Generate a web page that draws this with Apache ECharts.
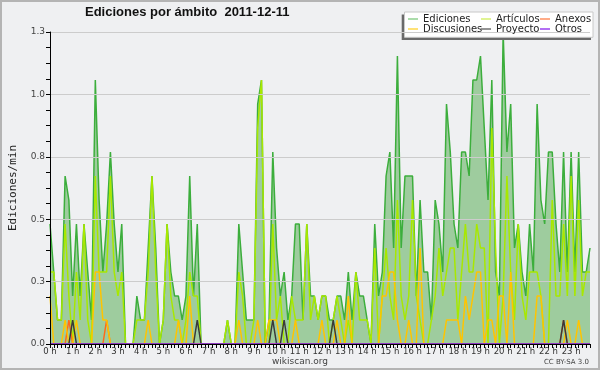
<!DOCTYPE html>
<html><head><meta charset="utf-8">
<script src="https://cdn.jsdelivr.net/npm/echarts@6/dist/echarts.min.js"></script>
<style>html,body{margin:0;padding:0;background:#eff0f2}#c{width:600px;height:370px}</style>
</head><body><div id="c"></div>
<script>
// Tick labels (one per hour) and 10-minute categories
const hourLabels = ["0 h","1 h","2 h","3 h","4 h","5 h","6 h","7 h","8 h","9 h","10 h","11 h","12 h","13 h","14 h","15 h","16 h","17 h","18 h","19 h","20 h","21 h","22 h","23 h"];
const yTickValues = [0, 0.26, 0.52, 0.78, 1.04, 1.3];
const categories = [];
for (let h = 0; h < 24; h++) for (let m = 0; m < 60; m += 10) categories.push(h + ":" + (m < 10 ? "0" : "") + m);

// Series values (edits per minute, 10-minute bins)
const ediciones = [
0.5,0.3,0.1,0.1,0.7,0.6,0.2,0.5,0.2,0.5,0.3,0.1,
1.1,0.6,0.3,0.5,0.8,0.5,0.3,0.5,0,0,0,0.2,
0.1,0.1,0.4,0.7,0.4,0,0.1,0.5,0.3,0.2,0.2,0.1,
0.2,0.7,0.2,0.5,0,0,0,0,0,0,0,0.1,
0,0,0.5,0.3,0.1,0.1,0.1,1.0,1.1,0,0.1,0.8,
0.4,0.2,0.3,0.1,0.2,0.5,0.5,0.1,0.5,0.2,0.2,0.1,
0.2,0.2,0.1,0.1,0.2,0.2,0.1,0.3,0.1,0.3,0.2,0.2,
0.1,0,0.5,0.2,0.3,0.7,0.8,0.4,1.2,0.4,0.7,0.7,
0.7,0.2,0.6,0.3,0.3,0.1,0.6,0.5,0.3,1.0,0.8,0.5,
0.4,0.8,0.8,0.7,1.1,1.1,1.2,0.9,0.6,1.1,0.3,0.2,
1.3,0.8,1.0,0.4,0.5,0.3,0.2,0.5,0.3,1.0,0.6,0.5,
0.8,0.8,0.5,0.3,0.8,0.3,0.8,0.3,0.8,0.3,0.3,0.4];
const articulos = [
0.3,0.3,0.1,0.1,0.5,0.2,0,0.3,0.1,0.5,0.1,0,
0.7,0.3,0.3,0.3,0.7,0.3,0.2,0.3,0,0,0,0.1,
0.1,0.1,0.3,0.7,0.3,0,0.1,0.5,0.2,0.1,0.1,0,
0.1,0.3,0.2,0.2,0,0,0,0,0,0,0,0.1,
0,0,0.3,0.2,0,0,0.1,0.9,1.1,0,0,0.5,
0.1,0.2,0,0,0.2,0.1,0.1,0.1,0.5,0.1,0.2,0.1,
0.2,0.2,0,0.1,0.2,0.1,0,0.1,0,0.3,0.1,0.1,
0.1,0,0.4,0,0.2,0.4,0.2,0.1,0.6,0.2,0.1,0.2,
0.6,0.2,0.1,0,0,0.1,0.2,0.4,0.2,0.3,0.4,0.4,
0.1,0.3,0.5,0.3,0.3,0.5,0.4,0.4,0,0.9,0.4,0,
0.2,0.7,0.3,0.1,0.5,0.2,0.1,0.3,0.3,0.3,0.2,0,
0,0.6,0.2,0.2,0.5,0.2,0.7,0.2,0.6,0.2,0.3,0.3];
const anexos = [
0,0,0,0,0,0.1,0,0,0,0,0,0,
0,0,0,0.1,0,0,0,0,0,0,0,0,
0,0,0,0,0,0,0,0,0,0,0,0,
0,0,0,0,0,0,0,0,0,0,0,0,
0,0,0,0,0,0,0,0,0,0,0,0,
0,0,0,0,0,0,0,0,0,0,0,0,
0,0,0,0,0,0,0,0,0,0,0,0,
0,0,0,0,0,0,0,0,0,0,0,0,
0,0,0,0,0,0,0,0,0,0,0,0,
0,0,0,0,0,0,0,0,0,0,0,0,
0,0,0,0,0,0,0,0,0,0,0,0,
0,0,0,0,0.1,0,0,0,0,0,0,0];
const discusiones = [
0.2,0,0,0,0.1,0,0,0.1,0,0,0,0,
0.3,0.3,0.1,0.1,0,0,0,0,0,0,0,0,
0,0,0.1,0,0,0,0,0,0,0,0.1,0,
0,0.2,0,0,0,0,0,0,0,0,0,0,
0,0,0.1,0,0,0,0,0.1,0,0,0.1,0.1,
0.1,0,0,0,0,0.1,0,0,0,0,0,0,
0.1,0,0,0,0.1,0,0,0.2,0,0,0,0,
0,0,0,0,0.2,0.2,0.3,0.3,0.1,0,0,0.1,
0,0,0.4,0,0,0,0,0,0,0.1,0.1,0.1,
0.1,0,0.2,0.1,0.2,0.3,0.3,0,0.1,0.1,0,0.2,
0.2,0,0.3,0,0,0,0,0,0,0.2,0.2,0,
0,0,0,0,0,0.1,0,0,0.1,0,0,0];
const proyecto = [
0,0,0,0,0,0,0.1,0,0,0,0,0,
0,0,0,0,0,0,0,0,0,0,0,0,
0,0,0,0,0,0,0,0,0,0,0,0,
0,0,0,0.1,0,0,0,0,0,0,0,0,
0,0,0,0,0,0,0,0,0,0,0,0.1,
0,0,0.1,0,0,0,0,0,0,0,0,0,
0,0,0,0.1,0,0,0,0,0,0,0,0,
0,0,0,0,0,0,0,0,0,0,0,0,
0,0,0,0,0,0,0,0,0,0,0,0,
0,0,0,0,0,0,0,0,0,0,0,0,
0,0,0,0,0,0,0,0,0,0,0,0,
0,0,0,0,0.1,0,0,0,0,0,0,0];
const otros = [
0,0,0,0,0,0,0,0,0,0,0,0,
0,0,0,0,0,0,0,0,0,0,0,0,
0,0,0,0,0,0,0,0,0,0,0,0,
0,0,0,0,0,0,0,0,0,0,0,0,
0,0,0,0,0,0,0,0,0,0,0,0,
0,0,0,0,0,0,0,0,0,0,0,0,
0,0,0,0,0,0,0,0,0,0,0,0,
0,0,0,0,0,0,0,0,0,0,0,0,
0,0,0,0,0,0,0,0,0,0,0,0,
0,0,0,0,0,0,0,0,0,0,0,0,
0,0,0,0,0,0,0,0,0,0,0,0,
0,0,0,0,0,0,0,0,0,0,0,0];

const seriesNames = ["Ediciones","Artículos","Anexos","Discusiones","Proyecto","Otros"];
const lineColors = {"Ediciones":"#3cae3c","Artículos":"#a8e800","Anexos":"#ff6a1a","Discusiones":"#ffc400","Proyecto":"#3a3a3a","Otros":"#9933ee"};
const legendColors = {"Ediciones":"#8fd08f","Artículos":"#d6f070","Anexos":"#ff9060","Discusiones":"#ffd84a","Proyecto":"#707070","Otros":"#9a40f0"};
const values = {"Ediciones":ediciones,"Artículos":articulos,"Anexos":anexos,"Discusiones":discusiones,"Proyecto":proyecto,"Otros":otros};

const FONT = "DejaVu Sans";
const chart = echarts.init(document.getElementById('c'), null, {renderer:'canvas'});

function legendCol(names, left) {
  return {
    orient:'vertical', left:left, top:14, padding:0, itemGap:0,
    itemWidth:10, itemHeight:1.5, icon:'rect', selectedMode:false, z:10,
    textStyle:{fontFamily:FONT, fontSize:10, color:'#222', lineHeight:10, padding:[0,0,0,0]},
    data: names.map(n => ({name:n, itemStyle:{color:legendColors[n]}}))
  };
}

const series = seriesNames.map((n, k) => {
  const s = {
    name:n, type:'line', data:values[n], symbol:'none', showSymbol:false,
    lineStyle:{color:lineColors[n], width:1.5}, itemStyle:{color:lineColors[n]},
    z: 2 + k, animation:false
  };
  if (n === "Ediciones") s.areaStyle = {color:'#9ecc9e', opacity:1};
  return s;
});

chart.setOption({
  backgroundColor:'#eff0f2',
  animation:false,
  title:{text:'Ediciones por ámbito  2011-12-11', left:85, top:6, padding:0,
    textStyle:{fontFamily:'Liberation Sans', fontWeight:'bold', fontSize:13, color:'#111'}},
  legend:[legendCol(["Ediciones","Discusiones"], 408), legendCol(["Artículos","Proyecto"], 481), legendCol(["Anexos","Otros"], 540)],
  grid:{left:46.7, right:10, top:32, bottom:26, containLabel:false},
  xAxis:{type:'category', data:categories, boundaryGap:false, z:10,
    axisLine:{lineStyle:{color:'#000', width:1}},
    axisTick:{show:true, interval:0, length:4, lineStyle:{color:'#000'}},
    axisLabel:{interval:5, margin:3, fontFamily:FONT, fontSize:8.5, color:'#333',
      formatter:(v, idx) => idx % 6 === 0 ? hourLabels[idx/6] : ''},
    splitLine:{show:false}},
  yAxis:{type:'value', min:yTickValues[0], max:yTickValues[yTickValues.length-1], interval:yTickValues[1], z:10,
    name:'Ediciones/min', nameLocation:'middle', nameGap:31,
    nameTextStyle:{fontFamily:'DejaVu Sans Mono', fontSize:11, color:'#222'},
    axisLine:{show:true, lineStyle:{color:'#000', width:1}},
    axisTick:{show:true, length:4, lineStyle:{color:'#000'}},
    minorTick:{show:true, splitNumber:4, length:4, lineStyle:{color:'#000'}},
    axisLabel:{margin:5, fontFamily:FONT, fontSize:9, color:'#444', formatter:v => v.toFixed(1)},
    splitLine:{show:true, lineStyle:{color:'#cccccc', width:1}}},
  graphic:[
    {type:'rect', shape:{x:1, y:1, width:598, height:368}, style:{fill:null, stroke:'#b4b4b4', lineWidth:2}, z:100},
    {type:'rect', shape:{x:401.7, y:14.4, width:189.3, height:25.6}, style:{fill:'#6a6a6a'}, z:8},
    {type:'rect', shape:{x:404.5, y:12, width:188.5, height:25.3}, style:{fill:'#ffffff', stroke:'#c8c8c8', lineWidth:1}, z:9},
    {type:'text', x:300, y:362, style:{text:'wikiscan.org', fill:'#444', font:'9px "DejaVu Sans"', textAlign:'center', textVerticalAlign:'middle'}, z:100},
    {type:'text', x:589, y:362, style:{text:'CC BY-SA 3.0', fill:'#444', font:'7px "DejaVu Sans"', textAlign:'right', textVerticalAlign:'middle'}, z:100}
  ],
  series:series
});
</script></body></html>
